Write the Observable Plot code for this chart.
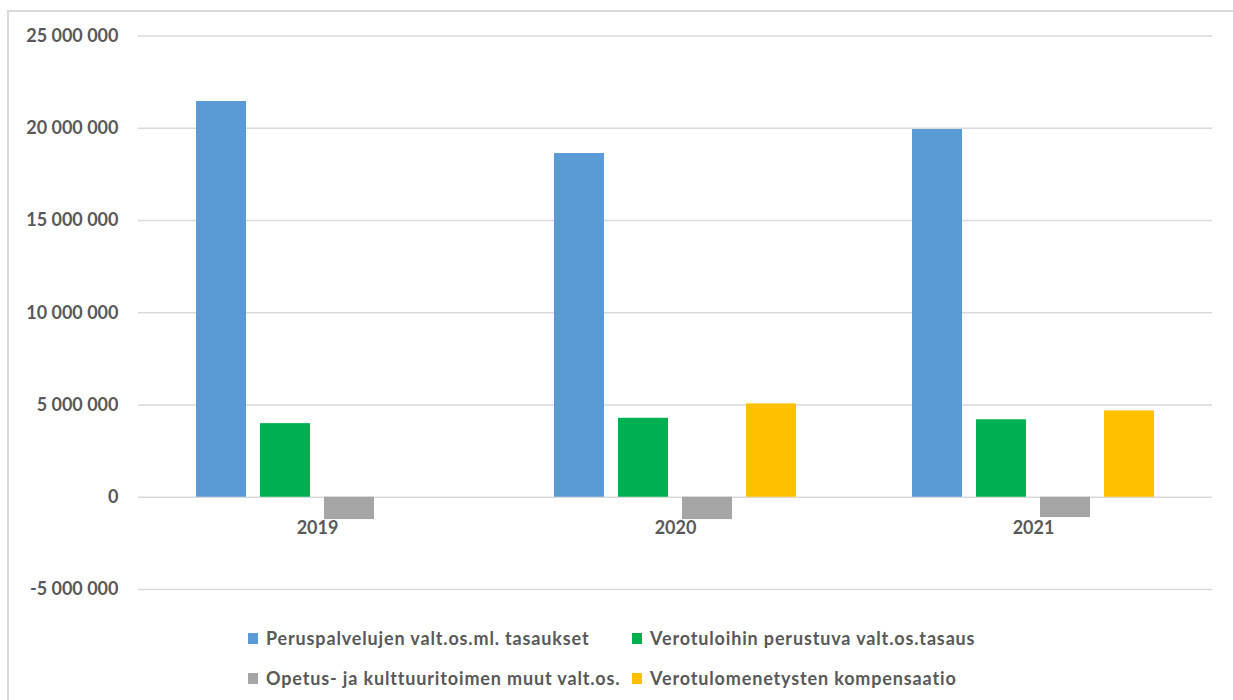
<!DOCTYPE html>
<html>
<head>
<meta charset="utf-8">
<script src="https://cdn.jsdelivr.net/npm/d3@7"></script>
<script src="https://cdn.jsdelivr.net/npm/@observablehq/plot@0.6"></script>
<style>
  html, body { margin: 0; padding: 0; background: #fff; }
  body { width: 1233px; height: 700px; position: relative; overflow: hidden; font-family: Lato, "Open Sans", sans-serif; }
  #frame { position: absolute; left: 7px; top: 10px; width: 1240px; height: 700px; border: 2px solid #d9d9d9; box-sizing: border-box; }
  #chart { position: absolute; left: 0; top: 0; }
  .leg { position: absolute; display: flex; align-items: center; font-weight: 700; font-size: 18px; letter-spacing: 0.85px; color: #595959; white-space: nowrap; }
  .sw { width: 10px; height: 11px; margin-right: 8px; }
</style>
</head>
<body>
<div id="frame"></div>
<div id="chart"></div>
<div id="legend"></div>
<script>
const years = ["2019", "2020", "2021"];
const seriesNames = [
  "Peruspalvelujen valt.os.ml. tasaukset",
  "Verotuloihin perustuva valt.os.tasaus",
  "Opetus- ja kulttuuritoimen muut valt.os.",
  "Verotulomenetysten kompensaatio"
];
const seriesColors = ["#5b9bd5", "#00b050", "#a5a5a5", "#ffc000"];
const peruspalvelut = [21450000, 18630000, 19930000];
const verotuloihin = [3990000, 4280000, 4200000];
const opetus = [-1210000, -1210000, -1100000];
const kompensaatio = [null, 5060000, 4680000];
const yTicks = [-5000000, 0, 5000000, 10000000, 15000000, 20000000, 25000000];

const allSeries = [peruspalvelut, verotuloihin, opetus, kompensaatio];
const rows = [];
years.forEach((yr, i) => {
  allSeries.forEach((vals, s) => {
    if (vals[i] != null) rows.push({year: yr, series: seriesNames[s], value: vals[i]});
  });
});

const loc = d3.formatLocale({thousands: "\u00a0", grouping: [3], decimal: ",", currency: ["", ""], minus: "-"});
const fmt = loc.format(",");

const chart = Plot.plot({
  width: 1233,
  height: 610,
  marginLeft: 137,
  marginRight: 20,
  marginTop: 35.5,
  marginBottom: 21,
  style: {fontFamily: "Lato, 'Open Sans', sans-serif", background: "transparent"},
  fx: {domain: years, padding: 0, axis: null},
  x: {domain: seriesNames, paddingInner: 0.215, paddingOuter: 0.87, axis: null},
  y: {domain: [-5000000, 25000000], axis: null},
  color: {domain: seriesNames, range: seriesColors},
  marks: [
    Plot.ruleY(yTicks, {stroke: "#d9d9d9", strokeWidth: 1.5}),
    Plot.barY(rows, {fx: "year", x: "series", y: "value", fill: "series"}),
    Plot.text(years, {fx: d => d, y: () => 0, text: d => d, dy: 31, fontSize: 18, fontWeight: 700, fill: "#595959"}),
    Plot.axisY({ticks: yTicks, tickFormat: fmt, tickSize: 0, tickPadding: 20, fontSize: 18, fontWeight: 700, fill: "#595959", anchor: "left", facetAnchor: "left", label: null})
  ]
});
document.getElementById("chart").appendChild(chart);

const legendPos = [[248, 638], [632, 638], [248, 678], [632, 678]];
const legend = document.getElementById("legend");
seriesNames.forEach((name, i) => {
  const el = document.createElement("div");
  el.className = "leg";
  el.style.left = legendPos[i][0] + "px";
  el.style.top = (legendPos[i][1] - 11) + "px";
  el.style.height = "22px";
  el.innerHTML = `<div class="sw" style="background:${seriesColors[i]}"></div><span>${name}</span>`;
  legend.appendChild(el);
});
</script>
</body>
</html>
